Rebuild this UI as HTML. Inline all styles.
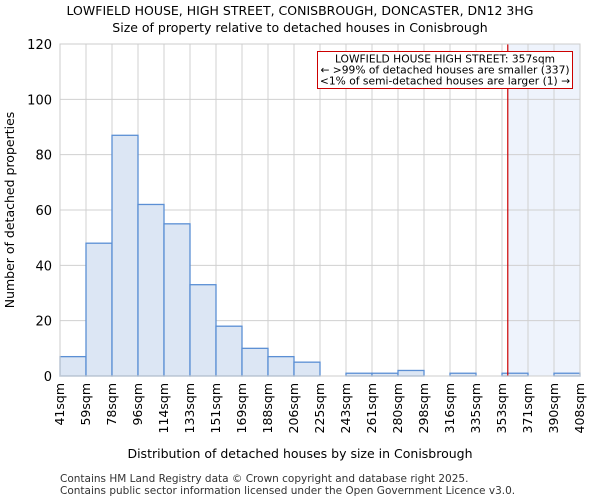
<!DOCTYPE html>
<html><head><meta charset="utf-8"><style>
body{margin:0;background:#fff;font-family:"DejaVu Sans","Liberation Sans",sans-serif}
</style></head><body>
<svg id="c" width="600" height="500" xmlns="http://www.w3.org/2000/svg" font-family="DejaVu Sans, Liberation Sans, sans-serif">
<text x="300" y="15" text-anchor="middle" font-size="12.5">LOWFIELD HOUSE, HIGH STREET, CONISBROUGH, DONCASTER, DN12 3HG</text>
<text x="300" y="32" text-anchor="middle" font-size="12.5">Size of property relative to detached houses in Conisbrough</text>
<g id="plot"></g>
<text x="300" y="458" text-anchor="middle" font-size="12.5">Distribution of detached houses by size in Conisbrough</text>
<text transform="translate(14,210) rotate(-90)" text-anchor="middle" font-size="12.5">Number of detached properties</text>
<text x="60" y="482" font-size="10.5" fill="#333">Contains HM Land Registry data © Crown copyright and database right 2025.</text>
<text x="60" y="494" font-size="10.5" fill="#333">Contains public sector information licensed under the Open Government Licence v3.0.</text>
</svg>
<script>
const categories=["41sqm","59sqm","78sqm","96sqm","114sqm","133sqm","151sqm","169sqm","188sqm","206sqm","225sqm","243sqm","261sqm","280sqm","298sqm","316sqm","335sqm","353sqm","371sqm","390sqm","408sqm"];
const binEdges=[41,59,78,96,114,133,151,169,188,206,225,243,261,280,298,316,335,353,371,390,408];
const counts=[7,48,87,62,55,33,18,10,7,5,0,1,1,2,0,1,0,1,0,1];
const yTicks=[0,20,40,60,80,100,120];
const markerValue=357;
const NS="http://www.w3.org/2000/svg";
const L=60,R=580,T=44,B=376,nb=counts.length,bw=(R-L)/nb;
const g=document.getElementById('plot');
function y(v){return B-(v/120)*(B-T);}
function xi(i){return L+i*bw;}
function xv(v){for(let i=0;i<binEdges.length-1;i++){if(v>=binEdges[i]&&v<=binEdges[i+1])return xi(i)+bw*(v-binEdges[i])/(binEdges[i+1]-binEdges[i]);}return R;}
function mk(t,a){const e=document.createElementNS(NS,t);for(const k in a)e.setAttribute(k,a[k]);g.appendChild(e);return e;}
let e;
e=mk('rect',{x:L,y:T,width:R-L,height:B-T,fill:'#fff'});


const mx=xv(markerValue);
e=mk('rect',{x:mx,y:T,width:R-mx,height:B-T,fill:'#eef3fc'});


for(let i=0;i<=nb;i++){e=mk('line',{x1:xi(i),x2:xi(i),y1:T,y2:B,stroke:'#d0d0d0'});

}
yTicks.forEach(t=>{e=mk('line',{x1:L,x2:R,y1:y(t),y2:y(t),stroke:'#d0d0d0'});


e=mk('text',{x:L-8,y:y(t)+5,'text-anchor':'end','font-size':'13'});e.textContent=t;

});
counts.forEach((c,i)=>{if(c<=0)return;e=mk('rect',{x:xi(i),y:y(c),width:bw,height:B-y(c),fill:'#dce6f4',stroke:'#5b8fd4','stroke-width':1.3});

});
categories.forEach((c,i)=>{e=mk('text',{transform:`translate(${xi(i)+4},383) rotate(-90)`,'text-anchor':'end','font-size':'12.5'});e.textContent=c;

});
e=mk('line',{x1:mx,x2:mx,y1:T,y2:B,stroke:'#cc0000','stroke-width':1.2});


e=mk('rect',{x:317.5,y:51.5,width:255,height:37,fill:'#fff',stroke:'#cc0000'});


["LOWFIELD HOUSE HIGH STREET: 357sqm","← >99% of detached houses are smaller (337)","<1% of semi-detached houses are larger (1) →"].forEach((s,i)=>{e=mk('text',{x:445,y:62.5+i*11,'text-anchor':'middle','font-size':'10.7'});e.textContent=s;

});
e=mk('rect',{x:L,y:T,width:R-L,height:B-T,fill:'none',stroke:'#ccc'});


</script>
</body></html>
